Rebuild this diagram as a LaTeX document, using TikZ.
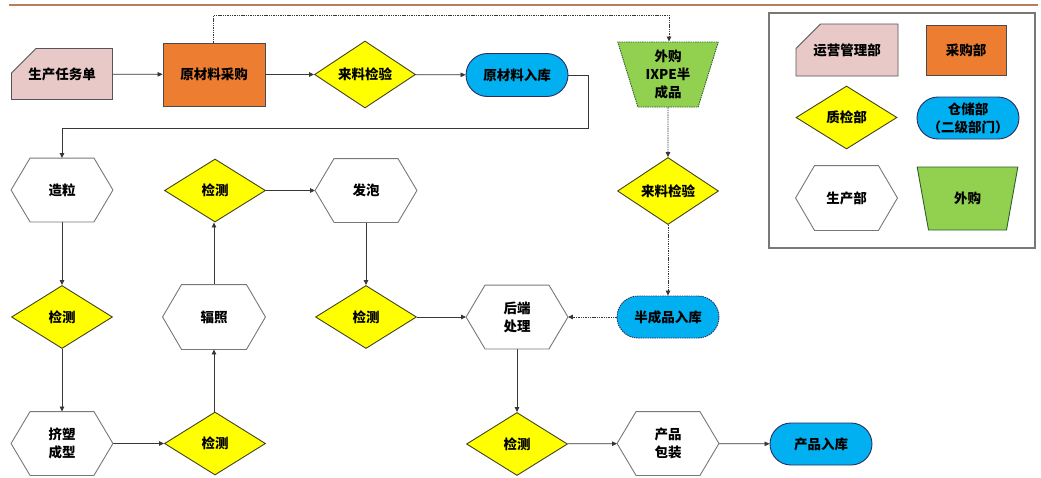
\documentclass[tikz,border=0pt]{standalone}
\usepackage{fontspec}
\newfontfamily\cjk{Noto Sans CJK SC}
\usetikzlibrary{shapes.geometric,shapes.misc,arrows.meta}
\definecolor{cpink}{RGB}{232,201,200}
\definecolor{corange}{RGB}{237,125,49}
\definecolor{cyel}{RGB}{255,255,0}
\definecolor{cblue}{RGB}{0,176,240}
\definecolor{cgreen}{RGB}{146,208,80}
\definecolor{cline}{RGB}{55,55,55}
\definecolor{cgray}{RGB}{120,120,120}
\definecolor{crule}{RGB}{185,125,95}
\tikzset{
  base/.style={font=\cjk\bfseries\fontsize{13.5}{18}\selectfont, align=center, inner sep=0pt, line width=0.9pt},
  cardbox/.style={base, chamfered rectangle, chamfered rectangle corners=north west, chamfered rectangle xsep=15pt, chamfered rectangle ysep=18pt, minimum width=101pt, minimum height=51pt, fill=cpink, draw=cline!85},
  buybox/.style={base, rectangle, minimum width=102pt, minimum height=63pt, fill=corange, draw=cline!90},
  chkbox/.style={base, diamond, minimum width=101pt, minimum height=63pt, fill=cyel, draw=cline!80!yellow!70!black},
  storebox/.style={base, rounded rectangle, minimum width=102pt, minimum height=43pt, fill=cblue, draw=cline!80!blue},
  hexbox/.style={base, rectangle, minimum width=101pt, minimum height=63pt},
  hexline/.style={draw=cgray, line width=0.9pt, line join=miter},
  outbox/.style={base, trapezium, trapezium stretches=true, trapezium angle=73, shape border rotate=180, minimum width=101pt, minimum height=65pt, fill=cgreen, draw=cline!80!green},
  dsh/.style={dash pattern=on 1.4pt off 0.9pt},
  conn/.style={draw=cline, line width=0.8pt, -{Triangle[length=5pt,width=4.5pt]}},
}
\begin{document}
\begin{tikzpicture}[x=1pt,y=-1pt]
\useasboundingbox (0,0) rectangle (1041,477);
\fill[white] (0,0) rectangle (1041,477);
\draw[crule, line width=1.6pt] (9,5) -- (1038,5);

% main flow
\node[cardbox] (task) at (62,74) {生产任务单};
\node[buybox] (buy) at (214,74.5) {原材料采购};
\node[chkbox] (chk1) at (365,74.5) {来料检验};
\node[storebox] (rawin) at (517,75) {原材料入库};
\node[outbox, dsh] (out) at (668,74.5) {外购\\IXPE半\\成品};
\node[chkbox] (chkr) at (668,191) {来料检验};
\node[storebox, dsh, minimum height=42pt] (semi) at (668,317) {半成品入库};

\node[hexbox] (zaoli) at (62,190) {造粒};
\node[chkbox] (chkA) at (62,317) {检测};
\node[hexbox] (jisu) at (62,443.5) {挤塑\\成型};
\node[chkbox] (chkB) at (215,443.5) {检测};
\node[hexbox, minimum width=102pt, minimum height=64pt] (fuzhao) at (214,317) {辐照};
\node[chkbox] (chkC) at (215,190.5) {检测};
\node[hexbox] (fapao) at (366,190.5) {发泡};
\node[chkbox] (chkD) at (366,317) {检测};
\node[hexbox] (hou) at (517,317) {后端\\处理};
\node[chkbox] (chkE) at (517,444) {检测};
\node[hexbox] (pack) at (668,443.5) {产品\\包装};
\node[storebox, minimum height=42pt] (prodin) at (821,444) {产品入库};

\coordinate (c1) at (588,75);
\coordinate (c2) at (588,128);
\coordinate (c3) at (62,128);
\coordinate (d1) at (213.5,15);
\coordinate (d2) at (669,15);

\draw[conn] (task) -- (buy);
\draw[conn] (buy) -- (chk1);
\draw[conn] (chk1) -- (rawin);
\draw[conn] (rawin.east) -- (c1) -- (c2) -- (c3) -- (zaoli.north);
\draw[conn, dsh] (buy.north -| d1) -- (d1) -- (d2) -- (out.north -| d2);
\draw[conn, dsh] (out.south) -- (chkr.north);
\draw[conn, dsh] (chkr.south) -- (semi.north);
\draw[conn, dsh] (semi.west) -- (hou.east);
\draw[conn] (zaoli) -- (chkA);
\draw[conn] (chkA) -- (jisu);
\draw[conn] (jisu) -- (chkB);
\draw[conn] (chkB.north -| fuzhao.south) -- (fuzhao.south);
\draw[conn] (fuzhao.north) -- (chkC.south -| fuzhao.north);
\draw[conn] (chkC) -- (fapao);
\draw[conn] (fapao) -- (chkD);
\draw[conn] (chkD) -- (hou);
\draw[conn] (hou) -- (chkE);
\draw[conn] (chkE) -- (pack);
\draw[conn] (pack) -- (prodin);

% legend
\node[draw=cgray, line width=1.1pt, minimum width=266pt, minimum height=235pt, inner sep=0pt] (legend) at (902,130.5) {};
\node[cardbox, minimum width=102pt, minimum height=52pt] (l1) at (847,50) {运营管理部};
\node[buybox, minimum width=80pt, minimum height=50pt] (l2) at (966,50) {采购部};
\node[chkbox] (l3) at (846.5,117.5) {质检部};
\node[storebox, minimum height=42pt] (l4) at (968,118) {仓储部\\（二级部门）};
\node[hexbox, minimum width=101pt, minimum height=64pt] (l5) at (846.5,198) {生产部};
\node[outbox, minimum height=63pt] (l6) at (967.5,198.5) {外购};

% hexagon outlines
\foreach \n in {zaoli,jisu,fuzhao,fapao,hou,pack,l5}
  \draw[hexline] (\n.west) -- ([xshift=19pt]\n.north west) -- ([xshift=-19pt]\n.north east)
    -- (\n.east) -- ([xshift=-19pt]\n.south east) -- ([xshift=19pt]\n.south west) -- cycle;
\end{tikzpicture}
\end{document}
